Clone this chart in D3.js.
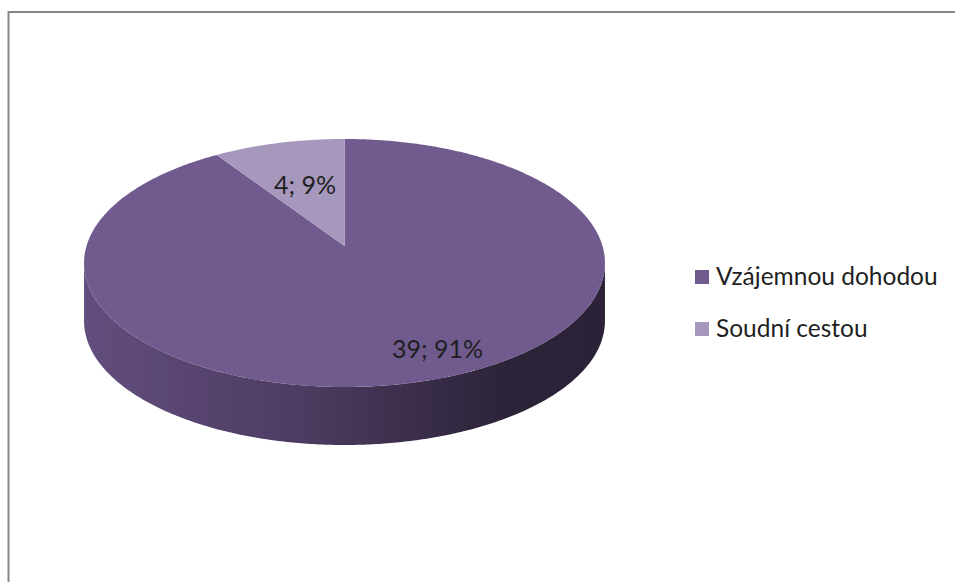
<!DOCTYPE html>
<html>
<head>
<meta charset="utf-8">
<style>
    body { margin: 0; background: #fff; }
    text { font-family: Lato, "Open Sans", sans-serif; fill: #1f1f1f; }
</style>
<script src="https://d3js.org/d3.v7.min.js"></script>
</head>
<body>
<svg width="955" height="582"></svg>
<script>
    // data
    var categories = ["Vzájemnou dohodou", "Soudní cestou"];
    var values = [39, 4];
    var colors = ["#705a8e", "#a698bd"];

    var svg = d3.select("svg");

    // chart frame (cropped at right and bottom)
    svg.append("rect")
        .attr("x", 8.5).attr("y", 12)
        .attr("width", 1000).attr("height", 1000)
        .attr("fill", "none")
        .attr("stroke", "#878787")
        .attr("stroke-width", 2);

    // 3D pie geometry: tilted disc with slight perspective
    var cx = 344.5, cy = 246;   // projected pie centre
    var fx = 258, fy = 121.7;   // horizontal / vertical radius
    var persp = 0.137;          // perspective factor
    var depth = 58;             // thickness of the disc

    function proj(a, r, dy) {
        var X = r * Math.sin(a), Z = r * Math.cos(a);
        var w = 1 + persp * Z;
        return [cx + fx * X / w, cy - fy * Z / w + (dy || 0)];
    }

    function arcPoints(a0, a1, r, dy) {
        var n = Math.max(2, Math.ceil(Math.abs(a1 - a0) / 0.01));
        var pts = [];
        for (var i = 0; i <= n; i++) pts.push(proj(a0 + (a1 - a0) * i / n, r, dy));
        return pts;
    }

    var pie = d3.pie().sort(null).value(function (d) { return d; });
    var arcs = pie(values);
    var line = d3.line();

    // gradient for the side wall
    var grad = svg.append("defs").append("linearGradient")
        .attr("id", "side")
        .attr("gradientUnits", "userSpaceOnUse")
        .attr("x1", cx - fx).attr("x2", cx + fx).attr("y1", 0).attr("y2", 0);
    [["0%", "#624e7e"], ["45%", "#4a3a5e"], ["80%", "#2d243a"], ["100%", "#2b2237"]]
        .forEach(function (s) { grad.append("stop").attr("offset", s[0]).attr("stop-color", s[1]); });

    // visible front wall lies between the two silhouette angles
    var sil = Math.acos(-persp);
    var frontA = sil, frontB = 2 * Math.PI - sil;

    arcs.forEach(function (d, i) {
        var a0 = Math.max(d.startAngle, frontA), a1 = Math.min(d.endAngle, frontB);
        if (a1 <= a0) return;
        var pts = arcPoints(a0, a1, 1, 0).concat(arcPoints(a1, a0, 1, depth));
        svg.append("path")
            .attr("d", line(pts) + "Z")
            .attr("fill", i === 0 ? "url(#side)" : d3.color(colors[i]).darker(1));
    });

    // top faces
    arcs.forEach(function (d, i) {
        var pts = [proj(0, 0)].concat(arcPoints(d.startAngle, d.endAngle, 1, 0));
        svg.append("path")
            .attr("d", line(pts) + "Z")
            .attr("fill", colors[i]);
    });

    // data labels  "value; percent"
    var total = d3.sum(values);
    var labelAt = [{ a: 156.8, r: 0.82 }, { a: 343.2, r: 0.57 }];
    arcs.forEach(function (d, i) {
        var p = proj(labelAt[i].a * Math.PI / 180, labelAt[i].r);
        svg.append("text")
            .attr("x", p[0]).attr("y", p[1])
            .attr("text-anchor", "middle")
            .attr("dominant-baseline", "central")
            .style("font-size", "25px")
            .text(values[i] + "; " + Math.round(values[i] / total * 100) + "%");
    });

    // legend
    var legend = svg.append("g").attr("transform", "translate(695,270)");
    categories.forEach(function (c, i) {
        var g = legend.append("g").attr("transform", "translate(0," + i * 52 + ")");
        g.append("rect").attr("width", 14).attr("height", 14).attr("fill", colors[i]);
        g.append("text").attr("x", 21).attr("y", 15)
            .style("font-size", "24.5px")
            .text(c);
    });
</script>
</body>
</html>
